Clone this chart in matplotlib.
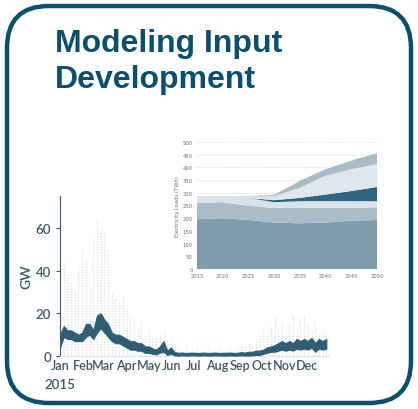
import numpy as np
import matplotlib.pyplot as plt
from matplotlib.patches import FancyBboxPatch

# === DATA ===
# hourly load summary, every 5 days of 2015 (GW)
days = np.arange(0, 365, 5)
load_lo = [4, 9, 8, 8, 7, 7, 7, 9, 10, 8,
           11, 13, 11, 9, 7, 6, 6, 5, 4, 3,
           3, 2.5, 2.5, 1.5, 1.5, 1, 0.8, 1.5, 2, 0.5,
           1, 0.3, 0.2, 0.3, 0.2, 0.2, 0.3, 0.2, 0.2, 0.3,
           0.2, 0.2, 0.3, 0.2, 0.2, 0.2, 0.3, 0.2, 0.2, 0.3,
           0.2, 0.2, 0.3, 0.5, 0.5, 1, 1.5, 2, 2, 2.5,
           3, 2.5, 3, 2.5, 3.5, 3, 3.5, 3, 4, 2,
           3.5, 3, 3.5]
load_hi = [10, 14, 12, 12, 11, 10, 11, 15, 15, 12,
           19, 20, 17, 15, 11, 10, 10, 9, 8, 7,
           7, 6, 6, 4.5, 4.5, 3.5, 3, 4.5, 7, 2.5,
           4, 1.8, 1.5, 1.6, 1.4, 1.5, 1.6, 1.4, 1.5, 1.6,
           1.4, 1.5, 1.6, 1.4, 1.5, 1.5, 1.6, 1.4, 1.5, 1.8,
           1.6, 2, 2, 2.5, 2.5, 3, 4, 4.5, 5, 6,
           7, 6, 7, 6, 8, 7, 8, 7, 8.5, 6,
           8, 7, 8]
load_peak = [20, 44, 38, 35, 30, 42, 50, 45, 32, 55,
             65, 60, 58, 48, 30, 27, 26, 28, 22, 18,
             17, 14, 16, 10, 12, 8, 9, 10, 12, 6,
             8, 5, 4, 3, 4, 3, 3, 4, 3, 3,
             4, 3, 3, 4, 3, 3, 4, 3, 4, 5,
             4, 6, 5, 8, 10, 12, 10, 14, 18, 12,
             15, 10, 16, 19, 14, 18, 19, 15, 12, 17,
             10, 12, 11]
month_starts = [0, 31, 59, 90, 120, 151, 181, 212, 243, 273, 304, 334]
month_labels = ["Jan", "Feb", "Mar", "Apr", "May", "Jun",
                "Jul", "Aug", "Sep", "Oct", "Nov", "Dec"]
year_label = "2015"

# electricity loads by layer (TWh)
years = [2015, 2020, 2025, 2030, 2035, 2040, 2045, 2050]
layer1 = [196, 200, 193, 183, 180, 183, 190, 193]
layer2 = [64, 63, 56, 57, 60, 57, 50, 50]
layer3 = [27, 24, 31, 23, 27, 27, 27, 24]
layer4 = [0, 0, 0, 8, 13, 26, 40, 56]
layer5 = [0, 0, 5, 16, 40, 74, 86, 90]
layer6 = [0, 0, 2, 5, 27, 26, 34, 43]
layer_colors = ["#7f9cab", "#a9bdc8", "#d9e3e8", "#2e6581", "#dfe7ec", "#a9bdc8"]

navy = "#0b4f6c"
tick_col = "#3d5869"

W, H = 418, 410
fig = plt.figure(figsize=(W / 100, H / 100), dpi=100)

# === FRAME + TITLE ===
bg = fig.add_axes([0, 0, 1, 1])
bg.set_xlim(0, W)
bg.set_ylim(H, 0)
bg.axis("off")
bg.add_patch(FancyBboxPatch((7, 7), 404, 397, boxstyle="round,pad=0,rounding_size=42",
                            fill=False, ec=navy, lw=3.2))
fig.text(55 / W, 1 - 52 / H, "Modeling Input", family="Liberation Sans", weight="bold",
         fontsize=23, color=navy, va="baseline")
fig.text(55 / W, 1 - 88 / H, "Development", family="Liberation Sans", weight="bold",
         fontsize=23, color=navy, va="baseline")

# === TIME SERIES ===
ax = fig.add_axes([60 / W, 1 - 357 / H, 270 / W, 160 / H])
ax.vlines(days, 0, load_peak, colors="#dbe4e9", linestyles=(0, (1, 1)), lw=1.0, zorder=1)
ax.fill_between(days, load_lo, load_hi, color="#2f5d74", lw=0.8, ec="#2f5d74", zorder=3)
ax.set_xlim(0, 365)
ax.set_ylim(0, 75)
ax.set_yticks([0, 20, 40, 60])
ax.set_xticks(month_starts)
ax.set_xticklabels(month_labels, family="Lato", weight="semibold")
for lbl in ax.get_yticklabels():
    lbl.set_family("Lato")
    lbl.set_weight("semibold")
ax.tick_params(axis="x", length=0, pad=2, labelsize=9, colors=tick_col)
ax.tick_params(axis="y", length=3, labelsize=9.5, colors=tick_col)
ax.set_ylabel("GW", fontsize=10, color=tick_col, labelpad=2, family="Lato", weight="semibold")
ax.text(0, -0.14, year_label, transform=ax.get_xaxis_transform(), ha="center", va="top",
        fontsize=9.5, color=tick_col, family="Lato", weight="semibold")
for s in ["top", "right"]:
    ax.spines[s].set_visible(False)
ax.spines["left"].set_color(tick_col)
ax.spines["bottom"].set_color("#d5dee3")
ax.spines["bottom"].set_linestyle(":")
ax.patch.set_alpha(0)

# === INSET: LOADS BY YEAR ===
ins = fig.add_axes([197 / W, 1 - 270 / H, 180 / W, 127 / H])
ins.set_facecolor("white")
ins.stackplot(years, layer1, layer2, layer3, layer4, layer5, layer6,
              colors=layer_colors, lw=0, zorder=2)
ins.set_xlim(2015, 2050)
ins.set_ylim(0, 500)
ins.set_yticks(np.arange(0, 501, 50))
ins.set_xticks(years)
ins.grid(axis="y", color="#e4e4e4", ls="--", lw=0.6, zorder=0)
ins.tick_params(length=0, labelsize=3.8, colors="#66737c", pad=3)
ins.set_ylabel("Electricity Loads (TWh)", fontsize=3.8, color="#66737c", labelpad=2)
for s in ins.spines.values():
    s.set_visible(False)

fig.savefig("out.png", dpi=100)
